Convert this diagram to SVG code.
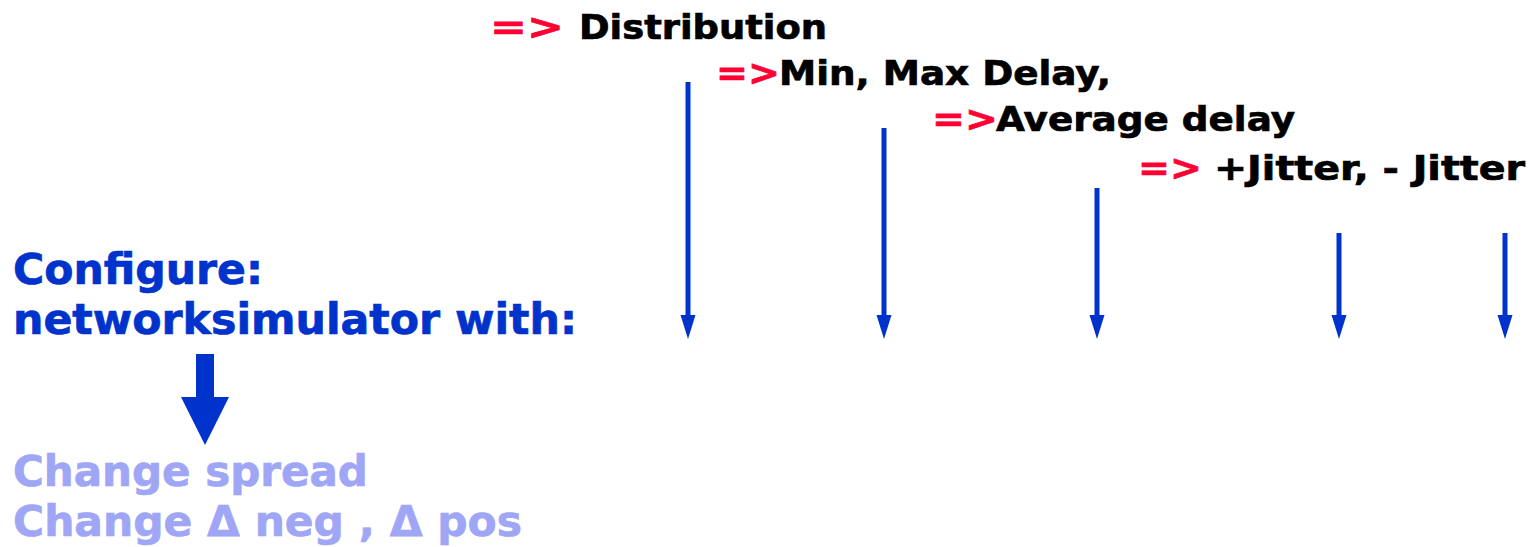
<svg xmlns="http://www.w3.org/2000/svg" width="1531" height="547" viewBox="0 0 1531 547">
<style>
.t{font-family:"DejaVu Sans","Verdana",sans-serif;font-weight:bold;stroke-width:0.7px}
.top{font-size:34px;fill:#000;stroke:#000}
.red{font-size:36px;fill:#FF0033;stroke:#FF0033}
.blue{font-size:42px;fill:#0033CC;stroke:#0033CC}
.light{font-size:42px;fill:#A0A6F6;stroke:#A0A6F6}
.conn line{stroke:#0033CC;stroke-width:5;marker-end:url(#ah)}
</style>
<defs>
<marker id="ah" markerUnits="userSpaceOnUse" viewBox="0 0 24 16" refX="0" refY="8" markerWidth="24" markerHeight="16" orient="auto">
<path d="M0,0.5 L24,8 L0,15.5 Z" fill="#0033CC"/>
</marker>
</defs>
<rect width="1531" height="547" fill="#fff"/>
<g id="label-distribution">
<text class="t red" x="490" y="39" textLength="74" lengthAdjust="spacingAndGlyphs">=&gt;</text>
<text class="t top" x="579" y="39" textLength="248" lengthAdjust="spacingAndGlyphs">Distribution</text>
</g>
<g id="label-minmax">
<text class="t red" x="716" y="85" textLength="64" lengthAdjust="spacingAndGlyphs">=&gt;</text>
<text class="t top" x="779" y="85" textLength="332" lengthAdjust="spacingAndGlyphs">Min, Max Delay,</text>
</g>
<g id="label-average">
<text class="t red" x="932" y="131" textLength="66" lengthAdjust="spacingAndGlyphs">=&gt;</text>
<text class="t top" x="996" y="131" textLength="299" lengthAdjust="spacingAndGlyphs">Average delay</text>
</g>
<g id="label-jitter">
<text class="t red" x="1138" y="180" textLength="64" lengthAdjust="spacingAndGlyphs">=&gt;</text>
<text class="t top" x="1214" y="180" textLength="311" lengthAdjust="spacingAndGlyphs">+Jitter, - Jitter</text>
</g>
<g id="configure">
<text class="t blue" x="13" y="284" textLength="250" lengthAdjust="spacingAndGlyphs">Configure:</text>
<text class="t blue" x="13" y="334" textLength="564" lengthAdjust="spacingAndGlyphs">networksimulator with:</text>
</g>
<g id="change">
<text class="t light" x="13" y="486">Change spread</text>
<text class="t light" x="13" y="536" textLength="509" lengthAdjust="spacingAndGlyphs">Change Δ neg , Δ pos</text>
</g>
<g id="connectors" class="conn">
<line x1="688" y1="82" x2="688" y2="315"/>
<line x1="884" y1="128" x2="884" y2="315"/>
<line x1="1097" y1="188" x2="1097" y2="315"/>
<line x1="1339" y1="233" x2="1339" y2="315"/>
<line x1="1505" y1="233" x2="1505" y2="315"/>
<polygon points="196,354 214,354 214,397 229,397 205,445 181,397 196,397" fill="#0033CC"/>
</g>
</svg>
